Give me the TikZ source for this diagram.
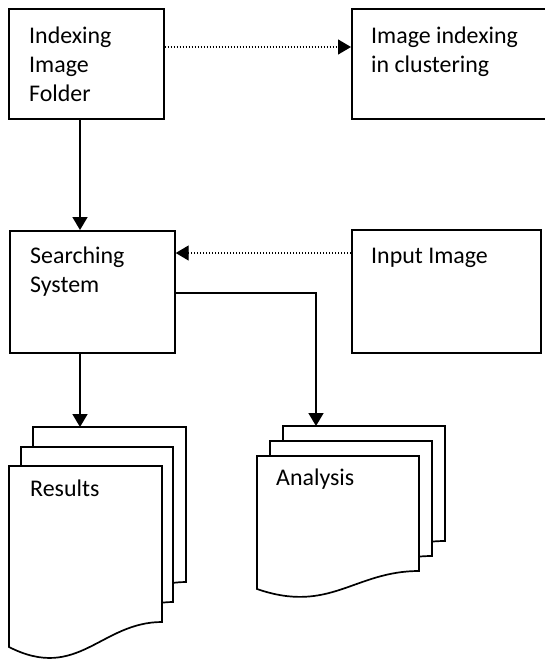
\documentclass[tikz,border=0pt]{standalone}
\usepackage{fontspec}
\setmainfont{Carlito}
\usetikzlibrary{arrows.meta}

\tikzset{
  box/.style={draw, line width=1.7pt, anchor=north west, inner sep=0pt, fill=white},
  txt/.style={anchor=base west, inner sep=0pt, font=\fontsize{23.9}{29}\selectfont},
  sheet/.style={draw, fill=white, line width=1.7pt, line join=miter},
  tip/.style={-{Triangle[length=13pt,width=15pt]}},
  flow/.style={tip, line width=1.7pt},
  dots/.style={tip, line width=1.3pt, dash pattern=on 1.3pt off 1.7pt},
}

% one page of a stacked document: x, y, width, height at the right edge, extra drop at the left edge
\newcommand\docsheet[5]{%
  \pgfmathsetmacro\dsR{#1+#3}%
  \pgfmathsetmacro\dsB{#2+#4}%
  \pgfmathsetmacro\dsL{#2+#4+#5}%
  \pgfmathsetmacro\dsCa{#1+0.6*#3}%
  \pgfmathsetmacro\dsCb{#1+0.45*#3}%
  \pgfmathsetmacro\dsCy{#2+#4+2.4*#5}%
  \filldraw[sheet] (#1,\dsL) -- (#1,#2) -- (\dsR,#2) -- (\dsR,\dsB)
    .. controls (\dsCa,\dsB) and (\dsCb,\dsCy) .. (#1,\dsL) -- cycle;}

\begin{document}
\begin{tikzpicture}[x=1pt, y=-1pt]
  \useasboundingbox[fill=white] (0,0) rectangle (545,659);

  % process boxes
  \node[box, minimum width=155pt, minimum height=110pt] (idx) at (8,8) {};
  \node[box, minimum width=197pt, minimum height=110pt] (clu) at (351,8) {};
  \node[box, minimum width=165pt, minimum height=122pt] (srch) at (9,230) {};
  \node[box, minimum width=189pt, minimum height=123pt] (inp) at (351,229) {};

  \node[txt] (idxtext) at (29,43)
    {\begin{tabular}[t]{@{}l@{}}Indexing\\Image\\Folder\end{tabular}};
  \node[txt] (clutext) at (371,43)
    {\begin{tabular}[t]{@{}l@{}}Image indexing\\in clustering\end{tabular}};
  \node[txt] (srchtext) at (30,263)
    {\begin{tabular}[t]{@{}l@{}}Searching\\System\end{tabular}};
  \node[txt] (inptext) at (371,263) {Input Image};

  % stacked documents
  \docsheet{33}{427}{153}{155}{25}
  \docsheet{21}{447}{152}{155}{25}
  \docsheet{9}{466}{153}{156}{25}
  \node[txt] (restext) at (30,496) {Results};

  \docsheet{283}{426}{162}{115}{18}
  \docsheet{270}{441}{162}{115}{18}
  \docsheet{257}{456}{162}{115}{18}
  \node[txt] (anatext) at (276,485) {Analysis};

  \coordinate (resin) at (80,427);
  \coordinate (anain) at (316,426);
  \coordinate (anturn) at (316,293);

  % connectors
  \draw[dots] ([yshift=-39pt]idx.north east) -- ([yshift=-39pt]clu.north west);
  \draw[dots] ([yshift=-24pt]inp.north west) -- ([yshift=-23pt]srch.north east);
  \draw[flow] (idx.south -| resin) -- (srch.north -| resin);
  \draw[flow] (srch.south -| resin) -- (resin);
  \draw[flow] (srch.east |- anturn) -- (anturn) -- (anain);
\end{tikzpicture}
\end{document}
